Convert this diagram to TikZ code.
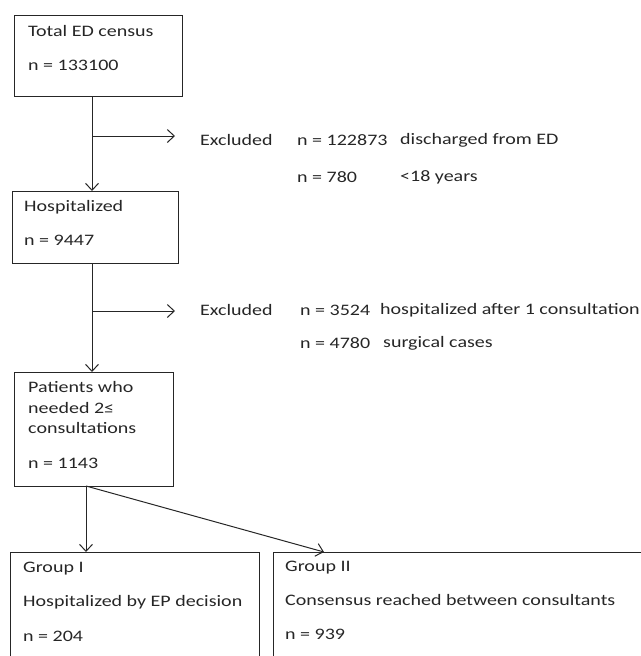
\documentclass[tikz,border=0pt]{standalone}
\usepackage{fontspec}
\setmainfont{Carlito}[FakeStretch=1.25]
\usetikzlibrary{arrows.meta}
\begin{document}
\begin{tikzpicture}[x=1pt,y=-1pt,
  box/.style={draw=black!85, line width=1pt, rectangle, inner sep=0pt, anchor=north west},
  txt/.style={anchor=west, inner sep=0pt, text=black!85, font=\fontsize{16}{19}\selectfont},
  arr/.style={draw=black!85, line width=1pt, -{Straight Barb[length=7pt,width=13pt,line width=1pt]}}]
\useasboundingbox (0,0) rectangle (640,656);
% boxes
\node[box, minimum width=168pt, minimum height=81pt] (b1) at (14,15) {};
\node[box, minimum width=166pt, minimum height=72pt] (b2) at (12,191) {};
\node[box, minimum width=159pt, minimum height=114pt] (b3) at (14,372) {};
\node[box, minimum width=249pt, minimum height=120pt] (b4) at (10,552) {};
\node[box, minimum width=400pt, minimum height=120pt] (b5) at (273,552) {};
% box texts
\node[txt] (t1a) at (28,31) {Total ED census};
\node[txt] (t1b) at (28,65) {n = 133100};
\node[txt] (t2a) at (24,207) {Hospitalized};
\node[txt] (t2b) at (24,240) {n = 9447};
\node[txt] (t3a) at (28,387) {Patients who};
\node[txt] (t3b) at (28,408) {needed 2≤};
\node[txt] (t3c) at (28,428) {consultations};
\node[txt] (t3d) at (28,463) {n = 1143};
\node[txt] (g1a) at (23,569) {Group I};
\node[txt] (g1b) at (23,602) {Hospitalized by EP decision};
\node[txt] (g1c) at (23,636) {n = 204};
\node[txt] (g2a) at (285,568) {Group II};
\node[txt] (g2b) at (285,600) {Consensus reached between consultants};
\node[txt] (g2c) at (285,634) {n = 939};
% exclusion texts
\node[txt] (e1) at (200,140) {Excluded};
\node[txt] (e1n) at (297,140) {n = 122873};
\node[txt] (e1d) at (400,140) {discharged from ED};
\node[txt] (e2n) at (297,177) {n = 780};
\node[txt] (e2d) at (400,177) {<18 years};
\node[txt] (e3) at (200,310) {Excluded};
\node[txt] (e3n) at (300,310) {n = 3524};
\node[txt] (e3d) at (380,310) {hospitalized after 1 consultation};
\node[txt] (e4n) at (300,343) {n = 4780};
\node[txt] (e4d) at (383,343) {surgical cases};
% connectors
\coordinate (j1) at (92,136);
\coordinate (k1) at (175,136);
\coordinate (j2) at (92,311);
\coordinate (k2) at (175,311);
\coordinate (j3) at (86,486);
\coordinate (k3) at (324,552);
\draw[arr] (b1.south -| j1) -- (b2.north -| j1);
\draw[arr] (j1) -- (k1);
\draw[arr] (b2.south -| j2) -- (b3.north -| j2);
\draw[arr] (j2) -- (k2);
\draw[arr] (b3.south -| j3) -- (b4.north -| j3);
\draw[arr] (j3) -- (k3);
\end{tikzpicture}
\end{document}
